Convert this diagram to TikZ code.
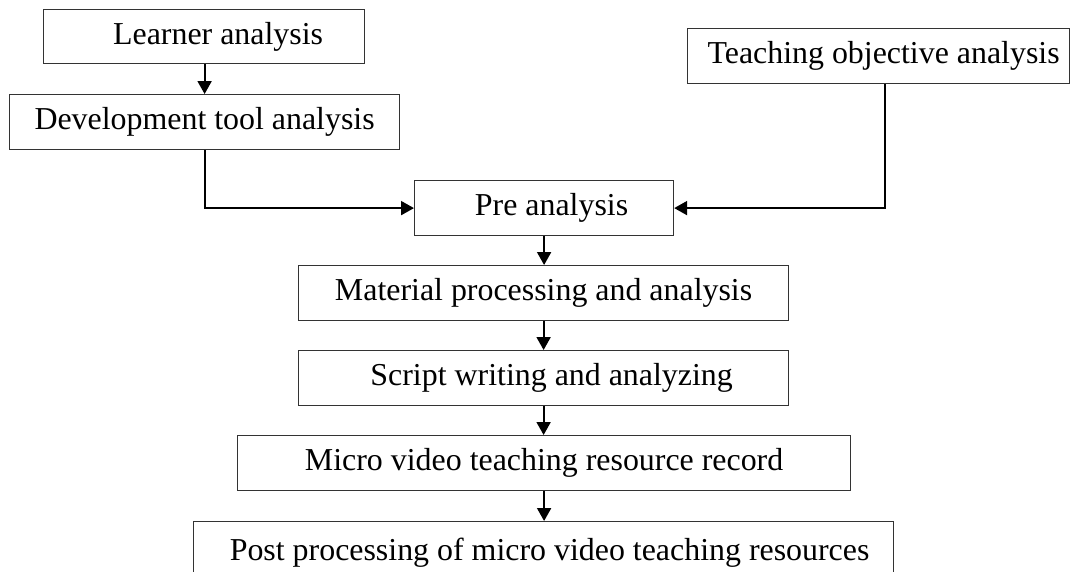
\documentclass[tikz,border=0pt]{standalone}
\usepackage{fontspec}
\setmainfont{Liberation Serif}
\usetikzlibrary{arrows.meta}
\tikzset{
  box/.style={draw=black!80, line width=1.2pt, rectangle, inner sep=0pt, anchor=north west,
    font=\fontsize{31.9}{38}\selectfont},
  flow/.style={line width=2pt, -{Triangle[length=13pt,width=14pt]}}
}
\begin{document}
\begin{tikzpicture}[x=1pt,y=-1pt]
\useasboundingbox (0,0) rectangle (1070,571);
\clip (0,0) rectangle (1070,571);
\node[box, minimum width=321pt, minimum height=54pt] (learner) at (43,9) {\hspace*{28pt}Learner analysis};
\node[box, minimum width=390pt, minimum height=55pt] (dev) at (9,94) {Development tool analysis};
\node[box, minimum width=382pt, minimum height=55pt] (teach) at (687,28) {\hspace*{10pt}Teaching objective analysis};
\node[box, minimum width=259pt, minimum height=55pt] (pre) at (414,180) {\hspace*{15pt}Pre analysis};
\node[box, minimum width=490pt, minimum height=55pt] (mat) at (298,265) {Material processing and analysis};
\node[box, minimum width=490pt, minimum height=55pt] (script) at (298,350) {\hspace*{16pt}Script writing and analyzing};
\node[box, minimum width=613pt, minimum height=55pt] (micro) at (237,435) {Micro video teaching resource record};
\node[box, minimum width=700pt, minimum height=62pt] (post) at (193,521) {\hspace*{12pt}Post processing of micro video teaching resources};
\draw[flow] (learner.south -| dev.north) -- (dev.north);
\draw[flow] (dev.south) |- (pre.west);
\draw[flow] ([xshift=6pt]teach.south) |- (pre.east);
\draw[flow] (pre.south) -- (pre.south |- mat.north);
\draw[flow] (mat.south) -- (mat.south |- script.north);
\draw[flow] (script.south) -- (script.south |- micro.north);
\draw[flow] (micro.south) -- (micro.south |- post.north);
\end{tikzpicture}
\end{document}
